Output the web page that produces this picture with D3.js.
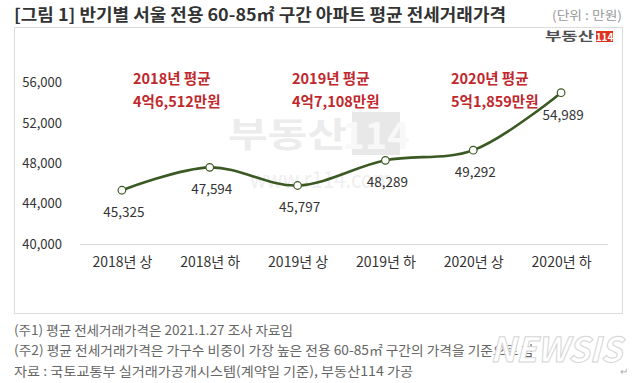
<!DOCTYPE html>
<html><head><meta charset="utf-8">
<script src="https://cdn.jsdelivr.net/npm/d3@7"></script>
<style>
body{margin:0;background:#fff;}
svg{display:block;font-family:"Noto Sans CJK KR","Noto Sans",sans-serif;}
</style></head>
<body><svg id="c" width="640" height="383"></svg>
<script>
const categories = ["2018년 상","2018년 하","2019년 상","2019년 하","2020년 상","2020년 하"];
const values = [45325, 47594, 45797, 48289, 49292, 54989];
const yTicks = [40000, 44000, 48000, 52000, 56000];
const annoYears = ["2018년 평균","2019년 평균","2020년 평균"];
const annoValues = ["4억6,512만원","4억7,108만원","5억1,859만원"];
const title = "[그림 1] 반기별 서울 전용 60-85㎡ 구간 아파트 평균 전세거래가격";
const unit = "(단위 : 만원)";
const notes = ["(주1) 평균 전세거래가격은 2021.1.27 조사 자료임",
 "(주2) 평균 전세거래가격은 가구수 비중이 가장 높은 전용 60-85㎡ 구간의 가격을 기준으로 함",
 "자료 : 국토교통부 실거래가공개시스템(계약일 기준), 부동산114 가공"];

// layout (positions, not data)
const annoLeft = [133, 292, 451];
const noteWidths = [279, 520, 399];

const svg = d3.select("#c");
const fmt = d3.format(",");

// title
svg.append("text").attr("x",14).attr("y",21).attr("font-size",16.5).attr("font-weight","bold")
  .attr("fill","#333").attr("textLength",492).attr("lengthAdjust","spacingAndGlyphs").text(title);
svg.append("text").attr("x",552).attr("y",20).attr("font-size",12.5)
  .attr("fill","#999").attr("textLength",70).attr("lengthAdjust","spacingAndGlyphs").text(unit);

// box
svg.append("rect").attr("x",14.5).attr("y",27.5).attr("width",608).attr("height",286)
  .attr("fill","#fff").attr("stroke","#dcdcdc");

// logo top right
svg.append("text").attr("x",545).attr("y",41).attr("font-size",12.5)
  .attr("font-weight","bold").attr("fill","#505050").attr("textLength",49).attr("lengthAdjust","spacingAndGlyphs").text("부동산");
svg.append("rect").attr("x",596).attr("y",31).attr("width",17).attr("height",11).attr("fill","#e0301e");
svg.append("text").attr("x",604.5).attr("y",40.5).attr("text-anchor","middle").attr("font-size",10)
  .attr("font-weight","bold").attr("fill","#fff").text("114");

// center watermark
svg.append("text").attr("x",228).attr("y",147).attr("font-size",34).attr("font-weight","bold")
  .attr("fill","#ececec").attr("textLength",119).attr("lengthAdjust","spacingAndGlyphs").text("부동산");
svg.append("rect").attr("x",352).attr("y",112).attr("width",48).attr("height",43).attr("fill","#e8e8e8");
svg.append("text").attr("x",376).attr("y",149).attr("text-anchor","middle").attr("font-size",38)
  .attr("font-weight","bold").attr("fill","#f8f8f8").text("114");
svg.append("text").attr("x",250).attr("y",188).attr("font-size",24)
  .attr("fill","#efefef").attr("textLength",142).attr("lengthAdjust","spacingAndGlyphs").text("www.r114.com");

// scales
const x = d3.scalePoint().domain(categories).range([78,605]).padding(0.5);
const y = d3.scaleLinear().domain([40000,56000]).range([244,82.5]);

// baseline gridline
svg.append("line").attr("x1",80).attr("x2",608).attr("y1",y(40000)+0.5).attr("y2",y(40000)+0.5)
  .attr("stroke","#d9d9d9");

// y axis
const ya = svg.append("g").attr("transform","translate(66,0)")
  .call(d3.axisLeft(y).tickValues(yTicks).tickSize(0).tickPadding(4).tickFormat(fmt));
ya.select(".domain").remove();
ya.selectAll("text").attr("font-size",13).attr("fill","#333").attr("font-family","'Noto Sans CJK KR',sans-serif");

// x axis
const xa = svg.append("g").attr("transform",`translate(0,${y(40000)})`)
  .call(d3.axisBottom(x).tickSize(0).tickPadding(13));
xa.select(".domain").remove();
xa.selectAll("text").attr("font-size",14).attr("fill","#333").attr("font-family","'Noto Sans CJK KR',sans-serif");

// line
const line = d3.line().x((d,i)=>x(categories[i])).y(d=>y(d)).curve(d3.curveCatmullRom.alpha(0.5));
svg.append("path").datum(values).attr("d",line).attr("fill","none")
  .attr("stroke","#3b5a23").attr("stroke-width",2.6);

svg.selectAll("circle.pt").data(values).join("circle").attr("class","pt")
  .attr("cx",(d,i)=>x(categories[i])).attr("cy",d=>y(d)).attr("r",3.8)
  .attr("fill","#fff").attr("stroke","#3b5a23").attr("stroke-width",1.2);

svg.selectAll("text.lab").data(values).join("text").attr("class","lab")
  .attr("x",(d,i)=>x(categories[i])+2).attr("y",d=>y(d)+27)
  .attr("text-anchor","middle").attr("font-size",13.5).attr("fill","#333").text(d=>fmt(d));

// annotations
annoYears.forEach((t,i)=>{
  svg.append("text").attr("x",annoLeft[i]).attr("y",84).attr("font-size",14.5)
    .attr("font-weight","bold").attr("fill","#c0282d").text(t);
  svg.append("text").attr("x",annoLeft[i]).attr("y",107).attr("font-size",14.5)
    .attr("font-weight","bold").attr("fill","#c0282d").text(annoValues[i]);
});

// notes
notes.forEach((t,i)=>{
  svg.append("text").attr("x",14).attr("y",335+i*20.3).attr("font-size",13).attr("fill","#666")
    .attr("textLength",noteWidths[i]).attr("lengthAdjust","spacingAndGlyphs").text(t);
});
svg.append("text").attr("x",620).attr("y",375).attr("font-size",10).attr("fill","#aaa").text("↵");

// NEWSIS watermark
svg.append("text").attr("x",490).attr("y",362).attr("font-size",34).attr("font-weight","bold")
  .attr("font-style","italic").attr("fill","#fff").attr("stroke","#d6d6d6").attr("stroke-width",1)
  .attr("textLength",132).attr("lengthAdjust","spacingAndGlyphs").text("NEWSIS");
</script></body></html>
